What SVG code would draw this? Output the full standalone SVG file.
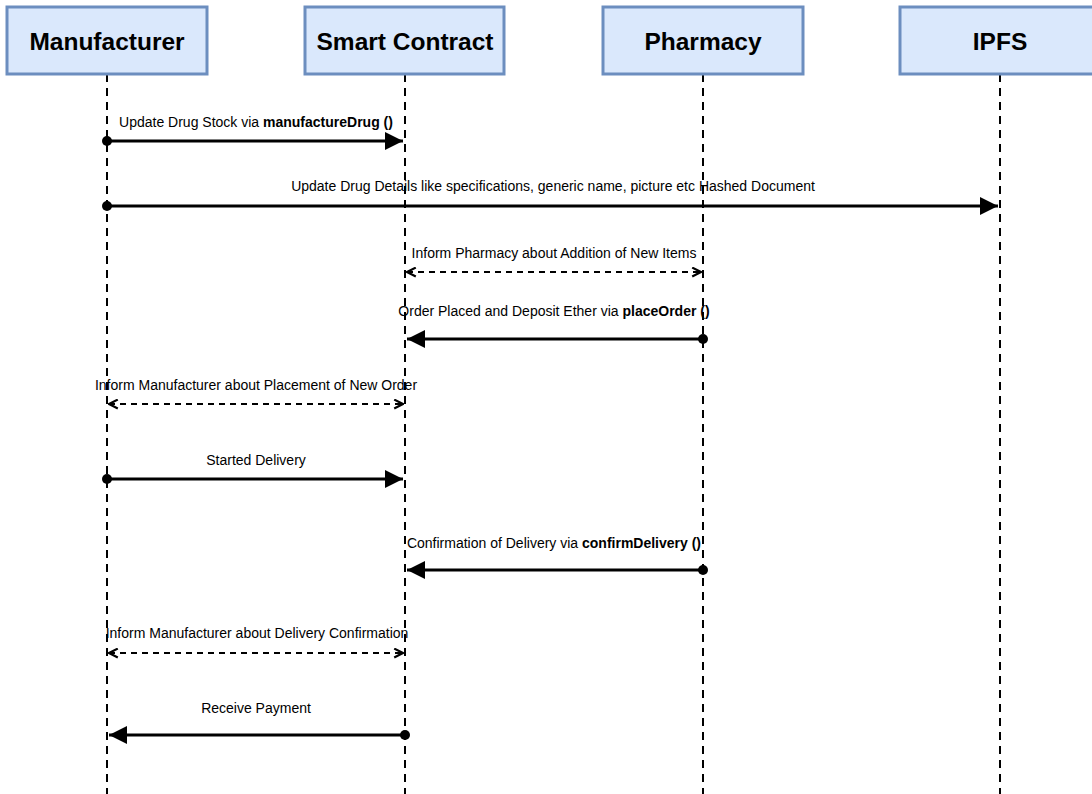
<svg xmlns="http://www.w3.org/2000/svg" width="1092" height="794" viewBox="0 0 1092 794">
<style>
.box{fill:#dae8fc;stroke:#6c8ebf;stroke-width:3}
.title{font-family:"Liberation Sans",Arial,sans-serif;font-weight:bold;font-size:24.5px;fill:#000;text-anchor:middle}
.life{stroke:#000;stroke-width:2;stroke-dasharray:8 6;fill:none}
.msg{stroke:#000;stroke-width:3;fill:none}
.dmsg{stroke:#000;stroke-width:2;stroke-dasharray:6 5;fill:none}
.lbl{font-family:"Liberation Sans",Arial,sans-serif;font-size:14px;fill:#000;text-anchor:middle}
.dot{fill:#000}
</style>
<defs>
<marker id="block" viewBox="0 0 10 10" refX="10" refY="5" markerWidth="6" markerHeight="6" markerUnits="strokeWidth" orient="auto">
<path d="M0,0 L10,5 L0,10 Z" fill="#000"/>
</marker>
<marker id="open" viewBox="0 0 10 10" refX="9" refY="5" markerWidth="5.5" markerHeight="5.5" markerUnits="strokeWidth" orient="auto-start-reverse">
<path d="M1,1 L9,5 L1,9" fill="none" stroke="#000" stroke-width="2"/>
</marker>
</defs>
<rect width="1092" height="794" fill="#fff"/>
<g id="lifelines">
<line class="life" x1="107" y1="74" x2="107" y2="794"/>
<line class="life" x1="405" y1="74" x2="405" y2="794"/>
<line class="life" x1="703" y1="74" x2="703" y2="794"/>
<line class="life" x1="1000" y1="74" x2="1000" y2="794"/>
</g>
<g id="manufacturer"><rect class="box" x="7" y="7" width="200" height="67"/><text class="title" x="107" y="50">Manufacturer</text></g>
<g id="smart-contract"><rect class="box" x="305" y="7" width="199" height="67"/><text class="title" x="405" y="50">Smart Contract</text></g>
<g id="pharmacy"><rect class="box" x="603" y="7" width="200" height="67"/><text class="title" x="703" y="50">Pharmacy</text></g>
<g id="ipfs"><rect class="box" x="900" y="7" width="200" height="67"/><text class="title" x="1000" y="50">IPFS</text></g>
<g id="connectors">
<line class="msg" x1="107" y1="141" x2="403" y2="141" marker-end="url(#block)"/>
<circle class="dot" cx="107" cy="141" r="5"/>
<text class="lbl" x="256" y="127">Update Drug Stock via <tspan font-weight="bold">manufactureDrug ()</tspan></text>

<line class="msg" x1="107" y1="206" x2="998" y2="206" marker-end="url(#block)"/>
<circle class="dot" cx="107" cy="206" r="5"/>
<text class="lbl" x="553" y="191">Update Drug Details like specifications, generic name, picture etc Hashed Document</text>

<line class="dmsg" x1="407" y1="272" x2="701" y2="272" marker-start="url(#open)" marker-end="url(#open)"/>
<text class="lbl" x="554" y="258">Inform Pharmacy about Addition of New Items</text>

<line class="msg" x1="703" y1="339" x2="407" y2="339" marker-end="url(#block)"/>
<circle class="dot" cx="703" cy="339" r="5"/>
<text class="lbl" x="554" y="316">Order Placed and Deposit Ether via <tspan font-weight="bold">placeOrder ()</tspan></text>

<line class="dmsg" x1="109" y1="404" x2="403" y2="404" marker-start="url(#open)" marker-end="url(#open)"/>
<text class="lbl" x="256" y="390">Inform Manufacturer about Placement of New Order</text>

<line class="msg" x1="107" y1="479" x2="403" y2="479" marker-end="url(#block)"/>
<circle class="dot" cx="107" cy="479" r="5"/>
<text class="lbl" x="256" y="465">Started Delivery</text>

<line class="msg" x1="703" y1="570" x2="407" y2="570" marker-end="url(#block)"/>
<circle class="dot" cx="703" cy="570" r="5"/>
<text class="lbl" x="554" y="548">Confirmation of Delivery via <tspan font-weight="bold">confirmDelivery ()</tspan></text>

<line class="dmsg" x1="109" y1="653" x2="403" y2="653" marker-start="url(#open)" marker-end="url(#open)"/>
<text class="lbl" x="257" y="638">Inform Manufacturer about Delivery Confirmation</text>

<line class="msg" x1="405" y1="735" x2="109" y2="735" marker-end="url(#block)"/>
<circle class="dot" cx="405" cy="735" r="5"/>
<text class="lbl" x="256" y="713">Receive Payment</text>
</g>
</svg>
